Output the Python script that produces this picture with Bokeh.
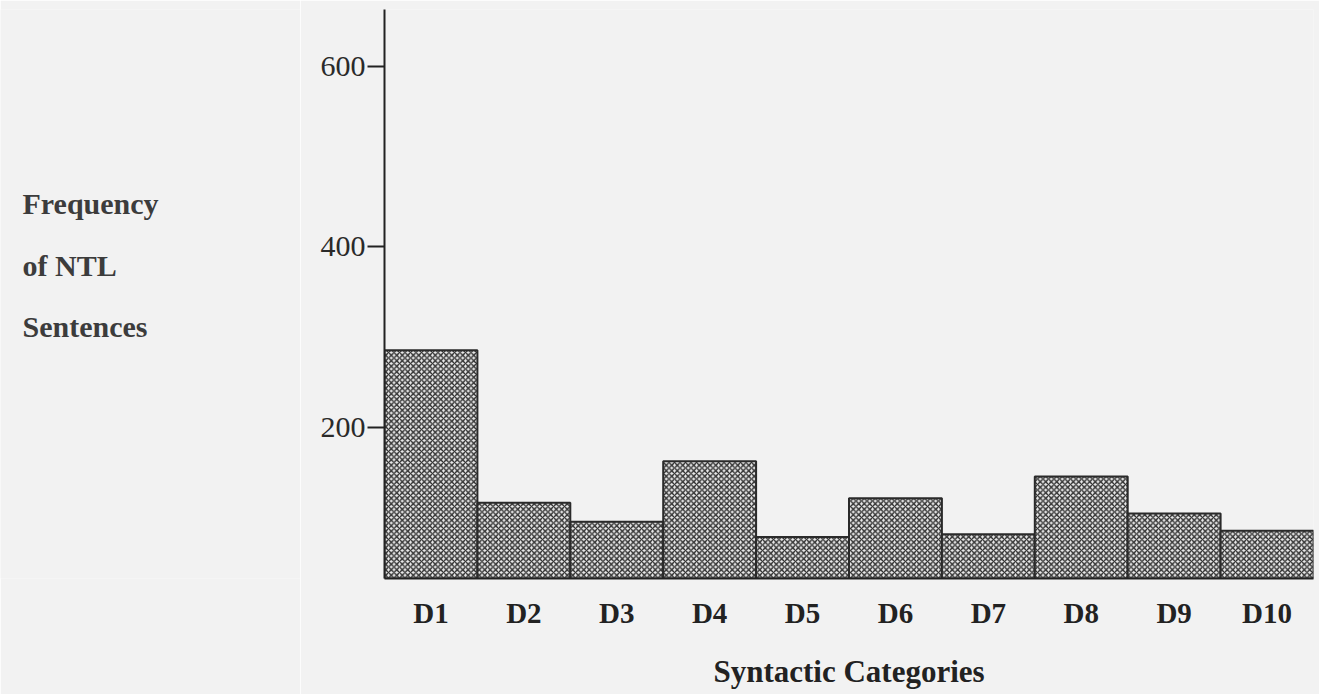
from bokeh.plotting import figure
from bokeh.layouts import row
from bokeh.models import FactorRange, Range1d, FixedTicker
from bokeh.core.properties import value
from bokeh.embed import file_html
from bokeh.resources import INLINE

# ---- data ----
categories = ["D1", "D2", "D3", "D4", "D5", "D6", "D7", "D8", "D9", "D10"]
frequency = [285, 116, 95, 162, 78, 121, 81, 145, 104, 85]
y_ticks = [200, 400, 600]
y_label_lines = ["Frequency", "of NTL", "Sentences"]
x_title = "Syntactic Categories"

Y0, Y1 = 32, 663  # visible value span of the axis
SERIF = "Liberation Serif"
bg = "#f2f2f2"

W, H = 1319, 694
LW = 300                      # width of the left label panel
FL, FR, FT, FB = 384, 1313, 9, 578

# ---- left panel holding the multi-line y title ----
# (its frame gets aligned with the main frame, so map page pixels FT..FB)
lp = figure(width=LW, height=H, output_backend="svg", toolbar_location=None,
            x_axis_location=None, y_axis_location=None,
            x_range=Range1d(0, LW), y_range=Range1d(FB, FT),
            min_border=0, min_border_left=0, min_border_right=0,
            min_border_top=FT, min_border_bottom=H - FB)
lp.grid.visible = False
lp.outline_line_color = None
lp.background_fill_color = bg
lp.border_fill_color = bg
lp.text(x=[22, 22, 22], y=[203, 265, 326], text=y_label_lines,
        text_font=value(SERIF), text_font_style="bold",
        text_font_size="30px", text_color="#3c3c3c",
        text_baseline="alphabetic", text_align="left")

# ---- main chart ----
p = figure(width=W - LW, height=H, output_backend="svg", toolbar_location=None,
           x_range=FactorRange(*categories, range_padding=0),
           y_range=Range1d(Y0, Y1),
           min_border_left=FL - LW, min_border_right=W - FR, min_border_top=FT,
           min_border_bottom=H - FB)
p.background_fill_color = bg
p.border_fill_color = bg
p.outline_line_color = None
p.grid.visible = False

p.vbar(x=categories, top=frequency, bottom=Y0, width=1.0,
       fill_color="#e9e9e9", hatch_pattern="x", hatch_scale=5.5,
       hatch_weight=1.4, hatch_color="#2e2e2e",
       line_color="#2a2a2a", line_width=2)

# y axis
ya = p.yaxis[0]
ya.ticker = FixedTicker(ticks=y_ticks)
ya.minor_tick_line_color = None
ya.major_tick_in = 0
ya.major_tick_out = 17
ya.major_tick_line_width = 2
ya.major_tick_line_color = "#222222"
ya.axis_line_width = 2
ya.axis_line_color = "#222222"
ya.major_label_text_font = SERIF
ya.major_label_text_font_size = "30px"
ya.major_label_text_color = "#2a2a2a"
ya.major_label_standoff = 2

# x axis
xa = p.xaxis[0]
xa.major_tick_line_color = None
xa.minor_tick_line_color = None
xa.major_tick_out = 0
xa.axis_line_width = 2
xa.axis_line_color = "#222222"
xa.major_label_text_font = SERIF
xa.major_label_text_font_style = "bold"
xa.major_label_text_font_size = "29px"
xa.major_label_text_color = "#222222"
xa.major_label_standoff = 18
xa.axis_label = x_title
xa.axis_label_text_font = SERIF
xa.axis_label_text_font_style = "bold"
xa.axis_label_text_font_size = "31px"
xa.axis_label_text_color = "#222222"
xa.axis_label_standoff = 22

layout = row(lp, p, spacing=0)
open("out.html", "w").write(file_html(layout, INLINE))
